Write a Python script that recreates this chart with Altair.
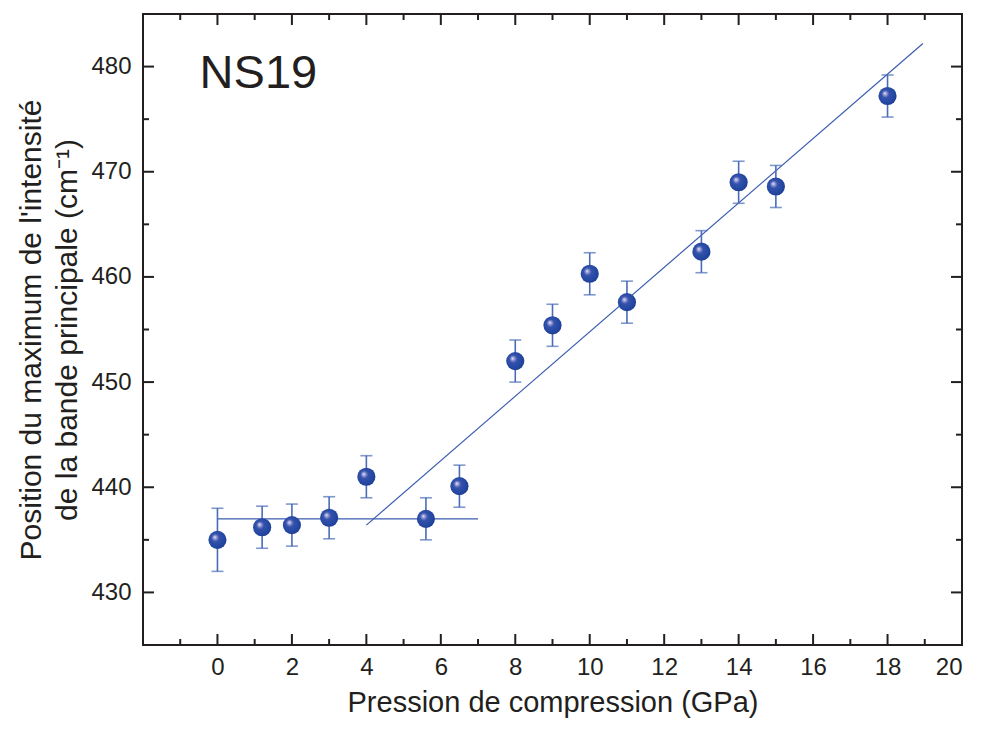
import altair as alt
import pandas as pd

# ---- data ----
pressure = [0, 1.2, 2, 3, 4, 5.6, 6.5, 8, 9, 10, 11, 13, 14, 15, 18]
position = [435.0, 436.2, 436.4, 437.1, 441.0, 437.0, 440.1, 452.0, 455.4, 460.3, 457.6, 462.4, 469.0, 468.6, 477.2]
err_low = [432.0, 434.2, 434.4, 435.1, 439.0, 435.0, 438.1, 450.0, 453.4, 458.3, 455.6, 460.4, 467.0, 466.6, 475.2]
err_high = [438.0, 438.2, 438.4, 439.1, 443.0, 439.0, 442.1, 454.0, 457.4, 462.3, 459.6, 464.4, 471.0, 470.6, 479.2]

plateau_x = [0, 7]
plateau_y = [437.0, 437.0]
fit_x = [4.0, 18.95]
fit_y = [436.4, 482.2]

label_text = ["NS19"]
label_x = [1.1]
label_y = [479.3]

x_major = [0, 2, 4, 6, 8, 10, 12, 14, 16, 18]
x_minor = [-1, 1, 3, 5, 7, 9, 11, 13, 15, 17, 19]
y_major = [430, 440, 450, 460, 470, 480]
y_minor = [435, 445, 455, 465, 475]

X_DOMAIN = [-2, 20]
Y_DOMAIN = [425, 485]
W, H = 819, 631

pts = pd.DataFrame({"p": pressure, "v": position, "lo": err_low, "hi": err_high})
xs = alt.Scale(domain=X_DOMAIN, nice=False, zero=False, padding=0)
ys = alt.Scale(domain=Y_DOMAIN, nice=False, zero=False, padding=0)

FONT = "Liberation Sans"
AX = "#231f20"
EB = "#4a6cb8"
LINE = "#3a5cb0"

x_axis = alt.Axis(values=list(range(0, 21, 2)), ticks=False, domain=False, grid=False,
                  labelFontSize=24, labelFont=FONT, labelColor=AX, labelPadding=10,
                  title="Pression de compression (GPa)", titleFontSize=29, titleFont=FONT,
                  titleFontWeight="normal", titleColor=AX, titleBaseline="alphabetic",
                  titleY=66)
y_axis = alt.Axis(values=y_major, ticks=False, domain=False, grid=False,
                  labelFontSize=24, labelFont=FONT, labelColor=AX, labelPadding=12,
                  title=["Position du maximum de l'intensité", "de la bande principale (cm⁻¹)"],
                  titleFontSize=30, titleFont=FONT, titleFontWeight="normal", titleColor=AX,
                  titlePadding=8, titleLineHeight=36)

base = alt.Chart(pts)

axes_layer = base.mark_point(opacity=0).encode(
    x=alt.X("p:Q", scale=xs, axis=x_axis),
    y=alt.Y("v:Q", scale=ys, axis=y_axis),
)

# inward tick marks
def xticks(vals, length):
    df = pd.DataFrame({"t": vals})
    c = alt.Chart(df)
    bot = c.mark_rule(color=AX, strokeWidth=2).encode(
        x=alt.X("t:Q", scale=xs), y=alt.value(H), y2=alt.value(H - length))
    top = c.mark_rule(color=AX, strokeWidth=2).encode(
        x=alt.X("t:Q", scale=xs), y=alt.value(0), y2=alt.value(length))
    return [bot, top]

def yticks(vals, length):
    df = pd.DataFrame({"t": vals})
    c = alt.Chart(df)
    left = c.mark_rule(color=AX, strokeWidth=2).encode(
        y=alt.Y("t:Q", scale=ys), x=alt.value(0), x2=alt.value(length))
    right = c.mark_rule(color=AX, strokeWidth=2).encode(
        y=alt.Y("t:Q", scale=ys), x=alt.value(W), x2=alt.value(W - length))
    return [left, right]

tick_layers = xticks(x_major, 11) + xticks(x_minor, 6) + yticks(y_major, 11) + yticks(y_minor, 6)

plateau = alt.Chart(pd.DataFrame({"x": plateau_x, "y": plateau_y})).mark_line(
    color=LINE, strokeWidth=1.2).encode(x=alt.X("x:Q", scale=xs), y=alt.Y("y:Q", scale=ys))
fit = alt.Chart(pd.DataFrame({"x": fit_x, "y": fit_y})).mark_line(
    color=LINE, strokeWidth=1.2).encode(x=alt.X("x:Q", scale=xs), y=alt.Y("y:Q", scale=ys))

err_rule = base.mark_rule(color=EB, strokeWidth=1.6).encode(
    x=alt.X("p:Q", scale=xs), y=alt.Y("lo:Q", scale=ys), y2="hi:Q")
cap_lo = base.mark_tick(color=EB, thickness=1.6, size=12, orient="horizontal").encode(
    x=alt.X("p:Q", scale=xs), y=alt.Y("lo:Q", scale=ys))
cap_hi = base.mark_tick(color=EB, thickness=1.6, size=12, orient="horizontal").encode(
    x=alt.X("p:Q", scale=xs), y=alt.Y("hi:Q", scale=ys))

sphere_fill = alt.RadialGradient(
    gradient="radial", x1=0.35, y1=0.35, r1=0.0, x2=0.45, y2=0.45, r2=0.6,
    stops=[alt.GradientStop(offset=0, color="#f4f0ff"),
           alt.GradientStop(offset=0.12, color="#a7a9dc"),
           alt.GradientStop(offset=0.35, color="#3552ac"),
           alt.GradientStop(offset=0.75, color="#2347a2"),
           alt.GradientStop(offset=1, color="#1c3b8c")])

spheres = base.mark_point(filled=True, shape="circle", size=330, fill=sphere_fill,
                          opacity=1, strokeWidth=0).encode(
    x=alt.X("p:Q", scale=xs), y=alt.Y("v:Q", scale=ys))

label = alt.Chart(pd.DataFrame({"t": label_text, "x": label_x, "y": label_y})).mark_text(
    font=FONT, fontSize=47, color=AX, align="center", baseline="middle").encode(
    x=alt.X("x:Q", scale=xs), y=alt.Y("y:Q", scale=ys), text="t:N")

chart = alt.layer(axes_layer, *tick_layers, plateau, fit, err_rule, cap_lo, cap_hi, spheres, label).properties(
    width=W, height=H,
    background="white",
    autosize=alt.AutoSizeParams(type="none"),
    padding={"left": 135, "top": 6, "right": 14, "bottom": 74},
).configure_view(stroke=AX, strokeWidth=2)

chart.save("out.html", embed_options={"renderer": "svg", "actions": False})
